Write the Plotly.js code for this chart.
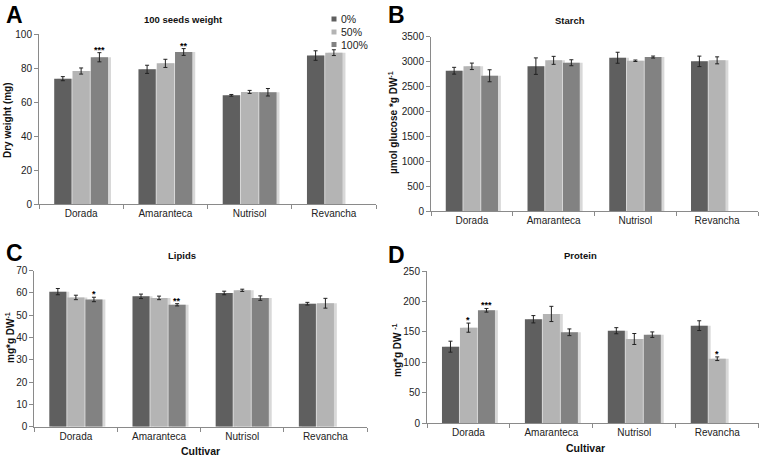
<!DOCTYPE html>
<html>
<head>
<meta charset="utf-8">
<script src="https://cdn.plot.ly/plotly-3.0.1.min.js"></script>
<style>html,body{margin:0;padding:0;background:#fff;}#chart{width:764px;height:459px;}</style>
</head>
<body>
<div id="chart"></div>
<script>
// ---------------- DATA ----------------
const categories = ['Dorada', 'Amaranteca', 'Nutrisol', 'Revancha'];
const seriesNames = ['0%', '50%', '100%'];

// A: 100 seeds weight (mg)
const seedW0 = [73.9, 79.4, 64.1, 87.5];
const seedW0Err = [1.2, 2.4, 0.5, 2.8];
const seedW50 = [78.4, 82.9, 66.1, 89.2];
const seedW50Err = [1.8, 2.4, 0.9, 1.7];
const seedW100 = [86.5, 89.6, 65.9, null];
const seedW100Err = [2.7, 2.0, 2.2, null];
const seedW100Stars = ['***', '**', '', ''];

// B: Starch (µmol glucose *g DW-1)
const starch0 = [2818, 2910, 3078, 3006];
const starch0Err = [68, 165, 110, 105];
const starch50 = [2906, 3026, 3018, 3026];
const starch50Err = [65, 80, 15, 70];
const starch100 = [2717, 2978, 3092, null];
const starch100Err = [120, 60, 20, null];

// C: Lipids (mg*g DW-1)
const lipids0 = [60.6, 58.5, 60.0, 55.2];
const lipids0Err = [1.4, 1.0, 0.8, 0.6];
const lipids50 = [58.0, 57.8, 61.2, 55.4];
const lipids50Err = [1.0, 0.8, 0.5, 2.2];
const lipids100 = [57.1, 54.7, 57.7, null];
const lipids100Err = [1.0, 0.5, 1.0, null];
const lipids100Stars = ['*', '**', '', ''];

// D: Protein (mg*g DW-1)
const protein0 = [125.8, 170.8, 152.0, 160.3];
const protein0Err = [9, 6, 5, 8];
const protein50 = [157.0, 179.5, 138.4, 106.0];
const protein50Err = [7.5, 12.5, 9, 3];
const protein50Stars = ['*', '', '', '*'];
const protein100 = [185.5, 149.4, 145.5, null];
const protein100Err = [3, 5.5, 4.5, null];
const protein100Stars = ['***', '', '', ''];

// ---------------- STYLE ----------------
const W = 764, H = 459;
const px = x => x / W;
const py = y => 1 - y / H;
const FONT = 'Liberation Sans, Arial, Helvetica, sans-serif';
const colors = ['#5f5f5f', '#b4b4b4', '#828282'];
const shadowColor = '#d8d8d8';
const barW = 0.205;
const offsets = [-0.3195, -0.1025, 0.1145];
const centers = offsets.map(o => o + barW / 2);

const panels = [
  {id: '', vals: [seedW0, seedW50, seedW100], errs: [seedW0Err, seedW50Err, seedW100Err],
   stars: [null, null, seedW100Stars], range: [0, 100], dtick: 20,
   xd: [39, 376], yd: [204.3, 34.3], title: '100 seeds weight', titlePos: [183, 19],
   letter: 'A', letterPos: [4, 0], ytitle: 'Dry weight (mg)', ytitlePos: [8, 120]},
  {id: '2', vals: [starch0, starch50, starch100], errs: [starch0Err, starch50Err, starch100Err],
   stars: [null, null, null], range: [0, 3500], dtick: 500,
   xd: [431, 758], yd: [211.3, 36.7], title: 'Starch', titlePos: [570, 21],
   letter: 'B', letterPos: [386, 0], ytitle: 'µmol glucose *g DW<sup>-1</sup>', ytitlePos: [393, 123]},
  {id: '3', vals: [lipids0, lipids50, lipids100], errs: [lipids0Err, lipids50Err, lipids100Err],
   stars: [null, null, lipids100Stars], range: [0, 70], dtick: 10,
   xd: [34.3, 367], yd: [426.7, 270.7], title: 'Lipids', titlePos: [182, 255],
   letter: 'C', letterPos: [4, 238], ytitle: 'mg*g DW<sup>-1</sup>', ytitlePos: [10, 338],
   xtitle: 'Cultivar', xtitlePos: [200, 451]},
  {id: '4', vals: [protein0, protein50, protein100], errs: [protein0Err, protein50Err, protein100Err],
   stars: [null, protein50Stars, protein100Stars], range: [0, 250], dtick: 50,
   xd: [427, 758.7], yd: [423.3, 271], title: 'Protein', titlePos: [580, 255],
   letter: 'D', letterPos: [386, 240], ytitle: 'mg*g DW <sup>-1</sup>', ytitlePos: [397, 350],
   xtitle: 'Cultivar', xtitlePos: [585, 448]}
];

const traces = [];
const annotations = [];
const shapes = [];
const layout = {
  width: W, height: H, autosize: false,
  margin: {l: 0, r: 0, t: 0, b: 0, pad: 0},
  paper_bgcolor: '#fff', plot_bgcolor: '#fff',
  barmode: 'overlay', showlegend: false,
  font: {family: FONT, size: 10, color: '#222'},
};

panels.forEach(p => {
  const xa = 'x' + p.id, ya = 'y' + p.id;
  // shadows first
  p.vals.forEach((v, s) => {
    traces.push({type: 'bar', x: categories, y: v, xaxis: xa, yaxis: ya,
      width: barW, offset: offsets[s] + 0.035, marker: {color: shadowColor, line: {width: 0}},
      hoverinfo: 'skip', showlegend: false});
  });
  p.vals.forEach((v, s) => {
    traces.push({type: 'bar', name: seriesNames[s], x: categories, y: v, xaxis: xa, yaxis: ya,
      width: barW, offset: offsets[s], marker: {color: colors[s], line: {width: 0}},
      error_y: {type: 'data', array: p.errs[s], visible: true, color: '#222', thickness: 1, width: 2},
      showlegend: false});
    if (p.stars[s]) {
      p.stars[s].forEach((st, i) => {
        if (!st) return;
        annotations.push({xref: xa, yref: ya, x: i + centers[s], y: v[i] + p.errs[s][i],
          text: '<b>' + st + '</b>', showarrow: false, xanchor: 'center', yanchor: 'bottom', yshift: -4,
          font: {family: FONT, size: 9, color: '#000'}});
      });
    }
  });
  const xKey = 'xaxis' + p.id, yKey = 'yaxis' + p.id;
  layout[xKey] = {
    domain: [px(p.xd[0]), px(p.xd[1])], anchor: ya, type: 'category',
    range: [-0.5, 3.5], showline: true, linecolor: '#8a8a8a', linewidth: 1,
    ticks: 'outside', tickson: 'boundaries', ticklen: 4, tickcolor: '#8a8a8a',
    showgrid: false, zeroline: false, tickfont: {family: FONT, size: 10, color: '#222'},
    fixedrange: true
  };
  layout[yKey] = {
    domain: [py(p.yd[0]), py(p.yd[1])], anchor: xa, range: p.range, dtick: p.dtick, tick0: 0,
    showline: true, linecolor: '#8a8a8a', linewidth: 1, ticks: 'outside', ticklen: 4,
    tickcolor: '#8a8a8a', showgrid: false, zeroline: false,
    tickfont: {family: FONT, size: 10, color: '#222'}, fixedrange: true
  };
  annotations.push({xref: 'paper', yref: 'paper', x: px(p.titlePos[0]), y: py(p.titlePos[1]),
    text: '<b>' + p.title + '</b>', showarrow: false, xanchor: 'center', yanchor: 'middle',
    font: {family: FONT, size: 9.5, color: '#111'}});
  annotations.push({xref: 'paper', yref: 'paper', x: px(p.letterPos[0]), y: py(p.letterPos[1]),
    text: '<b>' + p.letter + '</b>', showarrow: false, xanchor: 'left', yanchor: 'top',
    font: {family: FONT, size: 23, color: '#000'}});
  annotations.push({xref: 'paper', yref: 'paper', x: px(p.ytitlePos[0]), y: py(p.ytitlePos[1]),
    text: '<b>' + p.ytitle + '</b>', showarrow: false, xanchor: 'center', yanchor: 'middle',
    textangle: -90, font: {family: FONT, size: 10, color: '#111'}});
  if (p.xtitle) {
    annotations.push({xref: 'paper', yref: 'paper', x: px(p.xtitlePos[0]), y: py(p.xtitlePos[1]),
      text: '<b>' + p.xtitle + '</b>', showarrow: false, xanchor: 'center', yanchor: 'middle',
      font: {family: FONT, size: 10.5, color: '#111'}});
  }
});

// custom legend (panel A)
const legY = [19, 32, 44.5];
seriesNames.forEach((n, s) => {
  shapes.push({type: 'rect', xref: 'paper', yref: 'paper',
    x0: px(331.5), x1: px(336.5), y0: py(legY[s] + 2.5), y1: py(legY[s] - 2.5),
    fillcolor: colors[s], line: {width: 0}});
  annotations.push({xref: 'paper', yref: 'paper', x: px(338.5), y: py(legY[s]),
    text: n, showarrow: false, xanchor: 'left', yanchor: 'middle',
    font: {family: FONT, size: 10.5, color: '#222'}});
});

layout.annotations = annotations;
layout.shapes = shapes;

Plotly.newPlot('chart', traces, layout, {displayModeBar: false, staticPlot: true});
</script>
</body>
</html>
